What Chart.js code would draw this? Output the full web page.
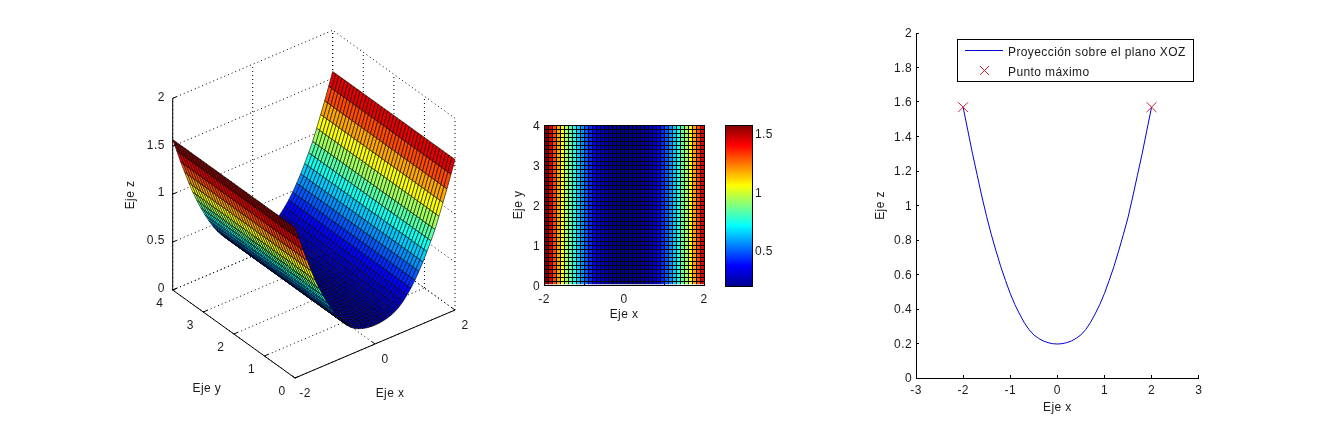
<!DOCTYPE html>
<html>
<head>
<meta charset="utf-8">
<title>Proyección sobre el plano XOZ</title>
<script src="https://cdn.jsdelivr.net/npm/chart.js@4"></script>
<style>
    html, body { margin: 0; padding: 0; background: #fff; }
    body { width: 1325px; height: 425px; position: relative; overflow: hidden; }
    canvas { position: absolute; display: block; }
</style>
</head>
<body>
<canvas id="surfChart" width="370" height="390" style="left:120px;top:20px"></canvas>
<canvas id="mapChart" width="220" height="220" style="left:500px;top:110px"></canvas>
<canvas id="barChart" width="100" height="220" style="left:700px;top:110px"></canvas>
<canvas id="lineChart" width="340" height="405" style="left:870px;top:20px"></canvas>
<script>
// values
const xGrid = [-2, -1.9, -1.8, -1.7, -1.6, -1.5, -1.4, -1.3, -1.2, -1.1, -1, -0.9, -0.8, -0.7, -0.6, -0.5, -0.4, -0.3, -0.2, -0.1, 0,
    0.1, 0.2, 0.3, 0.4, 0.5, 0.6, 0.7, 0.8, 0.9, 1, 1.1, 1.2, 1.3, 1.4, 1.5, 1.6, 1.7, 1.8, 1.9, 2];
const yGrid = [0, 0.1, 0.2, 0.3, 0.4, 0.5, 0.6, 0.7, 0.8, 0.9, 1, 1.1, 1.2, 1.3, 1.4, 1.5, 1.6, 1.7, 1.8, 1.9, 2,
    2.1, 2.2, 2.3, 2.4, 2.5, 2.6, 2.7, 2.8, 2.9, 3, 3.1, 3.2, 3.3, 3.4, 3.5, 3.6, 3.7, 3.8, 3.9, 4];
const zProfile = [1.57, 1.435, 1.3, 1.175, 1.05, 0.935, 0.83, 0.735, 0.645, 0.565, 0.49, 0.425, 0.37, 0.32, 0.28, 0.25, 0.23, 0.215, 0.205, 0.199, 0.197,
    0.199, 0.205, 0.215, 0.23, 0.25, 0.28, 0.32, 0.37, 0.425, 0.49, 0.565, 0.645, 0.735, 0.83, 0.93, 1.05, 1.175, 1.3, 1.435, 1.57];
const maxX = [-2, 2];
const maxZ = [1.57, 1.57];
const seriesNames = ['Proyección sobre el plano XOZ', 'Punto máximo'];

const surfXTicks = [-2, 0, 2];
const surfYTicks = [0, 1, 2, 3, 4];
const surfZTicks = [0, 0.5, 1, 1.5, 2];
const mapXTicks = [-2, 0, 2];
const mapYTicks = [0, 1, 2, 3, 4];
const barTicks = [0.5, 1, 1.5];
const lineXTicks = [-3, -2, -1, 0, 1, 2, 3];
const lineZTicks = [0, 0.2, 0.4, 0.6, 0.8, 1, 1.2, 1.4, 1.6, 1.8, 2];

const zMin = Math.min(...zProfile);
const zMax = Math.max(...zProfile);
const INK = '#1a1a1a';

Chart.defaults.font.family = '"Liberation Sans", Arial, sans-serif';
Chart.defaults.font.size = 12;
Chart.defaults.color = INK;
Chart.defaults.animation = false;
Chart.defaults.events = [];
Chart.defaults.plugins.legend.display = false;
Chart.defaults.plugins.tooltip.enabled = false;

// the original font runs a bit wider than Liberation Sans
Chart.register({
    id: 'tracking',
    beforeDraw(chart) { chart.ctx.letterSpacing = '0.4px'; },
});

// jet colormap
const jetStops = [
    [0, [0, 0, 143]],
    [0.125, [0, 0, 255]],
    [0.375, [0, 255, 255]],
    [0.625, [255, 255, 0]],
    [0.875, [255, 0, 0]],
    [1, [128, 0, 0]],
];
function jet(z) {
    const t = Math.min(1, Math.max(0, (z - zMin) / (zMax - zMin)));
    for (let i = 1; i < jetStops.length; i++) {
        if (t <= jetStops[i][0]) {
            const [t0, c0] = jetStops[i - 1];
            const [t1, c1] = jetStops[i];
            const f = (t - t0) / (t1 - t0);
            const c = c0.map((v, k) => Math.round(v + (c1[k] - v) * f));
            return `rgb(${c[0]},${c[1]},${c[2]})`;
        }
    }
    return 'rgb(128,0,0)';
}

// MATLAB style ticks: inward, only at the listed values.
// shift nudges y labels down: an empty first line with a small line height
function axisStyle(ticks, fixed, padding, shift) {
    const fmt = (v) => String(+Number(v).toFixed(1));
    return {
        grid: { drawOnChartArea: false, color: '#000', tickLength: -3, tickWidth: 1 },
        border: { color: '#000', width: 1 },
        ticks: {
            padding: padding,
            autoSkip: false,
            maxRotation: 0,
            font: shift ? { lineHeight: `${shift * 2}px` } : {},
            callback: shift ? (v) => ['', fmt(v)] : fmt,
        },
        afterBuildTicks: (scale) => { scale.ticks = ticks.map((v) => ({ value: v })); },
        afterFit: (scale) => {
            if (scale.isHorizontal()) scale.height = fixed; else scale.width = fixed;
        },
    };
}

const plotBox = {
    id: 'plotBox',
    afterDatasetsDraw(chart) {
        const { ctx, chartArea: a } = chart;
        ctx.save();
        ctx.strokeStyle = '#000';
        ctx.lineWidth = 1;
        ctx.strokeRect(Math.round(a.left) + 0.5, Math.round(a.top) + 0.5, a.width, a.height);
        ctx.restore();
    },
};

// ---------- 3D surface ----------
// orthographic view of the axes cube, in page pixels
function project(x, y, z) {
    const X = (x + 2) / 4, Y = y / 4, Z = z / 2;
    return {
        x: 295 + 160 * X - 122.3 * Y,
        y: 378 - 68 * X - 88 * Y - 191.7 * Z,
    };
}
function depth(x, y, z) {
    return -0.52 * (x + 2) / 4 - 0.68 * y / 4 + 0.5 * z / 2;
}
function seg3d(a, b, dash, width) {
    return {
        data: [project(...a), project(...b)],
        showLine: true,
        pointRadius: 0,
        borderColor: '#000',
        borderWidth: width || 1,
        borderDash: dash || [],
        fill: false,
    };
}

const quads = [];
for (let i = 0; i < xGrid.length - 1; i++) {
    for (let j = 0; j < yGrid.length - 1; j++) {
        const corners = [
            [xGrid[i], yGrid[j], zProfile[i]],
            [xGrid[i + 1], yGrid[j], zProfile[i + 1]],
            [xGrid[i + 1], yGrid[j + 1], zProfile[i + 1]],
            [xGrid[i], yGrid[j + 1], zProfile[i]],
        ];
        const d = corners.reduce((s, c) => s + depth(...c), 0) / 4;
        quads.push({ d, corners, color: jet(zProfile[i]) });
    }
}
// chart.js paints the first dataset last, so nearest goes first
quads.sort((a, b) => b.d - a.d);
const surfDatasets = quads.map((q) => ({
    data: [...q.corners, q.corners[0]].map((c) => project(...c)),
    showLine: true,
    pointRadius: 0,
    borderColor: '#000',
    borderWidth: 0.6,
    backgroundColor: q.color,
    fill: 'shape',
}));

const axes3d = [
    seg3d([-2, 0, 0], [2, 0, 0]),
    seg3d([-2, 0, 0], [-2, 4, 0]),
    seg3d([-2, 4, 0], [-2, 4, 2]),
];
surfXTicks.forEach((x) => axes3d.push(seg3d([x, 0, 0], [x, 0.1, 0])));
surfYTicks.forEach((y) => axes3d.push(seg3d([-2, y, 0], [-1.9, y, 0])));
surfZTicks.forEach((z) => axes3d.push(seg3d([-2, 4, z], [-1.9, 4, z])));

const grid3d = [];
const dots = [1, 3];
surfXTicks.forEach((x) => {
    grid3d.push(seg3d([x, 0, 0], [x, 4, 0], dots));
    grid3d.push(seg3d([x, 4, 0], [x, 4, 2], dots));
});
surfYTicks.forEach((y) => {
    grid3d.push(seg3d([-2, y, 0], [2, y, 0], dots));
    grid3d.push(seg3d([2, y, 0], [2, y, 2], dots));
});
surfZTicks.forEach((z) => {
    grid3d.push(seg3d([-2, 4, z], [2, 4, z], dots));
    grid3d.push(seg3d([2, 0, z], [2, 4, z], dots));
});

const surfLabels = {
    id: 'surfLabels',
    afterDraw(chart) {
        const { ctx, scales } = chart;
        const put = (p, dx, dy, text, align) => {
            ctx.textAlign = align || 'center';
            ctx.fillText(text, scales.x.getPixelForValue(p.x) + dx, scales.y.getPixelForValue(p.y) + dy);
        };
        ctx.save();
        ctx.fillStyle = INK;
        ctx.font = '12px "Liberation Sans", Arial, sans-serif';
        ctx.textBaseline = 'middle';
        surfZTicks.forEach((z) => put(project(-2, 4, z), -8, -1, String(z), 'right'));
        surfYTicks.forEach((y) => put(project(-2, y, 0), -13, 14, String(y)));
        surfXTicks.forEach((x) => put(project(x, 0, 0), 10, 16, String(x)));
        put(project(0, 0, 0), 15, 50, 'Eje x');
        put(project(-2, 2, 0), -27, 55, 'Eje y');
        ctx.translate(scales.x.getPixelForValue(131), scales.y.getPixelForValue(195));
        ctx.rotate(-Math.PI / 2);
        ctx.textAlign = 'center';
        ctx.fillText('Eje z', 0, 0);
        ctx.restore();
    },
};

new Chart(document.getElementById('surfChart'), {
    type: 'scatter',
    data: { datasets: [...axes3d, ...surfDatasets, ...grid3d] },
    plugins: [surfLabels],
    options: {
        responsive: false,
        maintainAspectRatio: false,
        layout: { padding: 0, autoPadding: false },
        scales: {
            x: { type: 'linear', display: false, min: 120, max: 490 },
            y: { type: 'linear', display: false, min: 20, max: 410, reverse: true },
        },
    },
});

// ---------- map view ----------
const cells = [];
const cellColors = [];
for (let i = 0; i < xGrid.length - 1; i++) {
    for (let j = 0; j < yGrid.length - 1; j++) {
        cells.push({ x: (xGrid[i] + xGrid[i + 1]) / 2, y: [yGrid[j], yGrid[j + 1]] });
        cellColors.push(jet(zProfile[i]));
    }
}

new Chart(document.getElementById('mapChart'), {
    type: 'bar',
    data: {
        datasets: [{
            data: cells,
            backgroundColor: cellColors,
            borderColor: '#000',
            borderWidth: { left: 1, top: 1, right: 0, bottom: 0 },
            borderSkipped: false,
            inflateAmount: 0,
            barPercentage: 1,
            categoryPercentage: 1,
        }],
    },
    plugins: [plotBox],
    options: {
        responsive: false,
        maintainAspectRatio: false,
        layout: { padding: { top: 15, right: 16, left: 0, bottom: 0 }, autoPadding: false },
        scales: {
            x: { ...axisStyle(mapXTicks, 45, 10), type: 'linear', min: -2, max: 2, offset: false,
                title: { display: true, text: 'Eje x', color: INK, padding: { top: 0, bottom: 8 } } },
            y: { ...axisStyle(mapYTicks, 44, 7, 2), type: 'linear', min: 0, max: 4,
                title: { display: true, text: 'Eje y', color: INK, padding: { top: 11, bottom: 0 } } },
        },
    },
});

// ---------- colorbar ----------
new Chart(document.getElementById('barChart'), {
    type: 'bar',
    data: {
        labels: [''],
        datasets: [{
            data: [[zMin, zMax]],
            inflateAmount: 0,
            borderWidth: 0,
            barPercentage: 1,
            categoryPercentage: 1,
            backgroundColor: (context) => {
                const { ctx, chartArea } = context.chart;
                if (!chartArea) return '#00f';
                const g = ctx.createLinearGradient(0, chartArea.bottom, 0, chartArea.top);
                jetStops.forEach(([t, c]) => g.addColorStop(t, `rgb(${c[0]},${c[1]},${c[2]})`));
                return g;
            },
        }],
    },
    plugins: [plotBox],
    options: {
        responsive: false,
        maintainAspectRatio: false,
        layout: { padding: { top: 15, right: 0, left: 25, bottom: 44 }, autoPadding: false },
        scales: {
            x: { display: false, grid: { display: false } },
            y: { ...axisStyle(barTicks, 48, 6, 1.5), position: 'right', min: zMin, max: zMax },
        },
    },
});

// ---------- XOZ projection ----------
const projLegend = {
    id: 'projLegend',
    afterDraw(chart) {
        const { ctx } = chart;
        ctx.save();
        ctx.fillStyle = '#fff';
        ctx.strokeStyle = '#000';
        ctx.lineWidth = 1;
        ctx.fillRect(87.5, 19.5, 236, 42);
        ctx.strokeRect(87.5, 19.5, 236, 42);
        ctx.strokeStyle = '#0000d0';
        ctx.beginPath();
        ctx.moveTo(95, 30.5);
        ctx.lineTo(133, 30.5);
        ctx.stroke();
        ctx.strokeStyle = '#cc2030';
        ctx.beginPath();
        ctx.moveTo(110, 46);
        ctx.lineTo(119, 55);
        ctx.moveTo(119, 46);
        ctx.lineTo(110, 55);
        ctx.stroke();
        ctx.fillStyle = INK;
        ctx.font = '12px "Liberation Sans", Arial, sans-serif';
        ctx.textBaseline = 'middle';
        ctx.fillText(seriesNames[0], 138, 33);
        ctx.fillText(seriesNames[1], 138, 53);
        ctx.restore();
    },
};

new Chart(document.getElementById('lineChart'), {
    type: 'scatter',
    data: {
        datasets: [
            {
                label: seriesNames[1],
                data: maxX.map((x, i) => ({ x, y: maxZ[i] })),
                showLine: false,
                pointStyle: 'crossRot',
                pointRadius: 7,
                pointBorderColor: '#cc2030',
                pointBorderWidth: 1,
            },
            {
                label: seriesNames[0],
                data: xGrid.map((x, i) => ({ x, y: zProfile[i] })),
                showLine: true,
                pointRadius: 0,
                borderColor: '#0000d0',
                borderWidth: 1,
            },
        ],
    },
    plugins: [projLegend],
    options: {
        responsive: false,
        maintainAspectRatio: false,
        layout: { padding: { top: 13, right: 11, left: 0, bottom: 0 }, autoPadding: false },
        scales: {
            x: { ...axisStyle(lineXTicks, 47, 8), type: 'linear', min: -3, max: 3,
                title: { display: true, text: 'Eje x', color: INK, padding: { top: 0, bottom: 10 } } },
            y: { ...axisStyle(lineZTicks, 46, 7, 1), type: 'linear', min: 0, max: 2,
                title: { display: true, text: 'Eje z', color: INK, padding: { top: 3, bottom: 0 } } },
        },
    },
});
</script>
</body>
</html>
